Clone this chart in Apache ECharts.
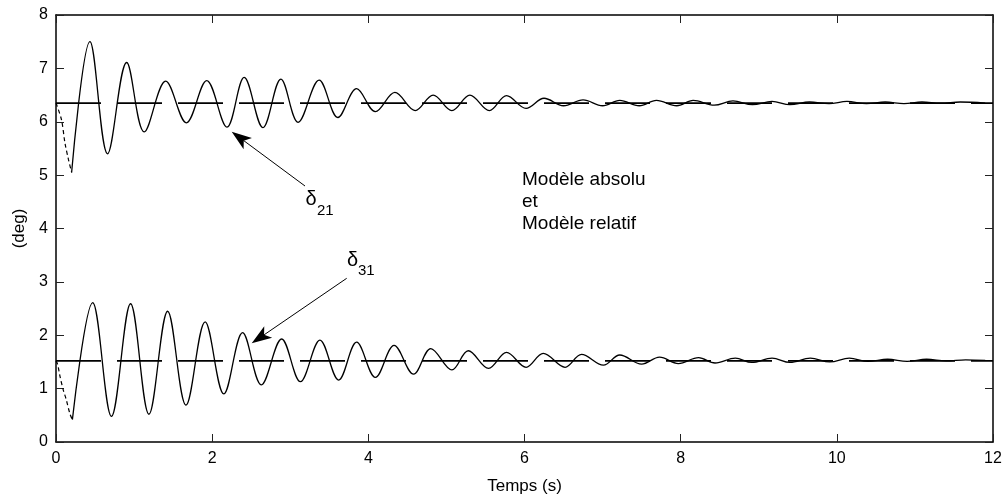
<!DOCTYPE html>
<html><head><meta charset="utf-8">
<script src="https://cdn.jsdelivr.net/npm/echarts@6/dist/echarts.min.js"></script>
<style>html,body{margin:0;padding:0;background:#fff}#c{width:1006px;height:500px}</style>
</head><body><div id="c"></div>
<script>
// delta21 : oscillating response (extrema)
const t21 = [0.20,0.435,0.66,0.905,1.13,1.405,1.67,1.93,2.19,2.41,2.65,2.88,3.10,3.37,3.61,3.85,4.09,4.34,4.60,4.83,5.07,5.30,5.55,5.77,6.02,6.25,6.50,6.75,7.00,7.22,7.47,7.69,7.95,8.16,8.43,8.67,8.92,9.17,9.40,9.65,9.90,10.13,10.38,10.62,10.86,11.09,11.33,11.58,11.90];
const v21 = [5.05,7.50,5.40,7.11,5.81,6.76,5.98,6.77,5.90,6.83,5.89,6.80,5.99,6.78,6.08,6.62,6.19,6.55,6.21,6.50,6.21,6.50,6.21,6.49,6.25,6.44,6.30,6.41,6.30,6.40,6.30,6.40,6.30,6.40,6.31,6.39,6.32,6.38,6.32,6.37,6.34,6.38,6.34,6.37,6.34,6.37,6.35,6.37,6.35];
// delta21 : initial dashed dip
const dipT21 = [0,0.07,0.115,0.16,0.20];
const dipV21 = [6.35,6.04,5.60,5.29,5.05];
// delta31 : oscillating response
const t31 = [0.21,0.47,0.71,0.955,1.19,1.43,1.665,1.91,2.15,2.39,2.63,2.89,3.13,3.38,3.62,3.85,4.09,4.33,4.58,4.80,5.07,5.28,5.54,5.77,6.02,6.24,6.52,6.73,7.01,7.22,7.50,7.73,7.97,8.23,8.44,8.70,8.91,9.17,9.40,9.66,9.91,10.16,10.40,10.65,10.90,11.15,11.40,11.65,11.90];
const v31 = [0.42,2.61,0.48,2.59,0.52,2.45,0.69,2.25,0.90,2.05,1.07,1.93,1.13,1.91,1.16,1.87,1.21,1.81,1.27,1.75,1.35,1.71,1.38,1.68,1.40,1.66,1.40,1.64,1.44,1.63,1.46,1.59,1.47,1.58,1.48,1.57,1.49,1.57,1.49,1.57,1.50,1.57,1.51,1.55,1.51,1.55,1.52,1.54,1.53];
// delta31 : initial dashed dip
const dipT31 = [0,0.02,0.05,0.09,0.13,0.18,0.21];
const dipV31 = [1.52,1.46,1.24,0.99,0.80,0.52,0.42];
// steady-state reference levels
const refT = [0,12];
const ref21 = [6.35,6.35];
const ref31 = [1.52,1.52];
// texts
const xName = 'Temps (s)';
const yName = '(deg)';
const legendLines = ['Modèle absolu','et','Modèle relatif'];

const FONT = '"Liberation Sans", Arial, Helvetica, sans-serif';
const zip = (a,b) => a.map((x,i)=>[x,b[i]]);

function lineSeries(t,v,type,width,smooth){
  return {type:'line', data:zip(t,v), showSymbol:false, symbol:'none', smooth:smooth||false,
    lineStyle:{color:'#000', width:width, type:type}, animation:false, z:3};
}

function arrow(from,to){
  const dx=from[0]-to[0], dy=from[1]-to[1], L=Math.hypot(dx,dy);
  const ux=dx/L, uy=dy/L, nx=-uy, ny=ux;
  const len=20, half=7, notch=15;
  const bx=to[0]+ux*len, by=to[1]+uy*len;
  return [
    {type:'line', shape:{x1:from[0],y1:from[1],x2:to[0]+ux*notch,y2:to[1]+uy*notch}, style:{stroke:'#000',lineWidth:1}, z:10},
    {type:'polygon', shape:{points:[[to[0],to[1]],[bx+nx*half,by+ny*half],[to[0]+ux*notch,to[1]+uy*notch],[bx-nx*half,by-ny*half]]}, style:{fill:'#000'}, z:10}
  ];
}
function txt(x,y,s,size,align){
  return {type:'text', x:x, y:y, z:10, style:{text:s, fill:'#000', font:size+'px '+FONT, fontSize:size, fontFamily:FONT,
    textAlign:align||'left', align:align||'left', textVerticalAlign:'middle', verticalAlign:'middle'}};
}

const graphics = [].concat(
  arrow([305,186],[231.7,131.7]),
  arrow([346.7,278.3],[251.7,343.3]),
  [txt(311,199,'δ',20,'center'), txt(317,211,'21',15,'left'),
   txt(352.5,260,'δ',20,'center'), txt(358,271,'31',15,'left'),
   txt(522,180,legendLines[0],19), txt(522,202,legendLines[1],19), txt(522,224,legendLines[2],19)]
);

const axisCommon = {type:'value', splitLine:{show:false},
  axisLine:{show:true, onZero:false, lineStyle:{color:'#000', width:1.5}},
  axisTick:{show:true, inside:true, length:8, lineStyle:{color:'#222', width:1}}};

const option = {
  backgroundColor:'#fff',
  animation:false,
  textStyle:{fontFamily:FONT},
  grid:{left:56, right:13, top:15, bottom:57, containLabel:false},
  xAxis:[
    Object.assign({}, axisCommon, {position:'bottom', min:0, max:12, interval:2,
      name:xName, nameLocation:'middle', nameGap:36, nameTextStyle:{fontSize:17, color:'#000', fontFamily:FONT},
      axisLabel:{fontSize:16, color:'#000', margin:9, fontFamily:FONT}}),
    Object.assign({}, axisCommon, {position:'top', min:0, max:12, interval:2, axisLabel:{show:false}})
  ],
  yAxis:[
    Object.assign({}, axisCommon, {position:'left', min:0, max:8, interval:1,
      name:yName, nameLocation:'middle', nameGap:26, nameTextStyle:{fontSize:17, color:'#000', fontFamily:FONT},
      axisLabel:{fontSize:16, color:'#000', margin:8, fontFamily:FONT}}),
    Object.assign({}, axisCommon, {position:'right', min:0, max:8, interval:1, axisLabel:{show:false}})
  ],
  series:[
    lineSeries(refT,ref21,[45,16],1.8),
    lineSeries(refT,ref31,[45,16],1.8),
    lineSeries(dipT21,dipV21,[4,3],1.2,0.3),
    lineSeries(dipT31,dipV31,[4,3],1.2,0.3),
    lineSeries(t21,v21,'solid',1.3,0.36),
    lineSeries(t31,v31,'solid',1.3,0.36)
  ],
  graphic:graphics
};
const chart = echarts.init(document.getElementById('c'), null, {renderer:'canvas'});
chart.setOption(option);
</script></body></html>
